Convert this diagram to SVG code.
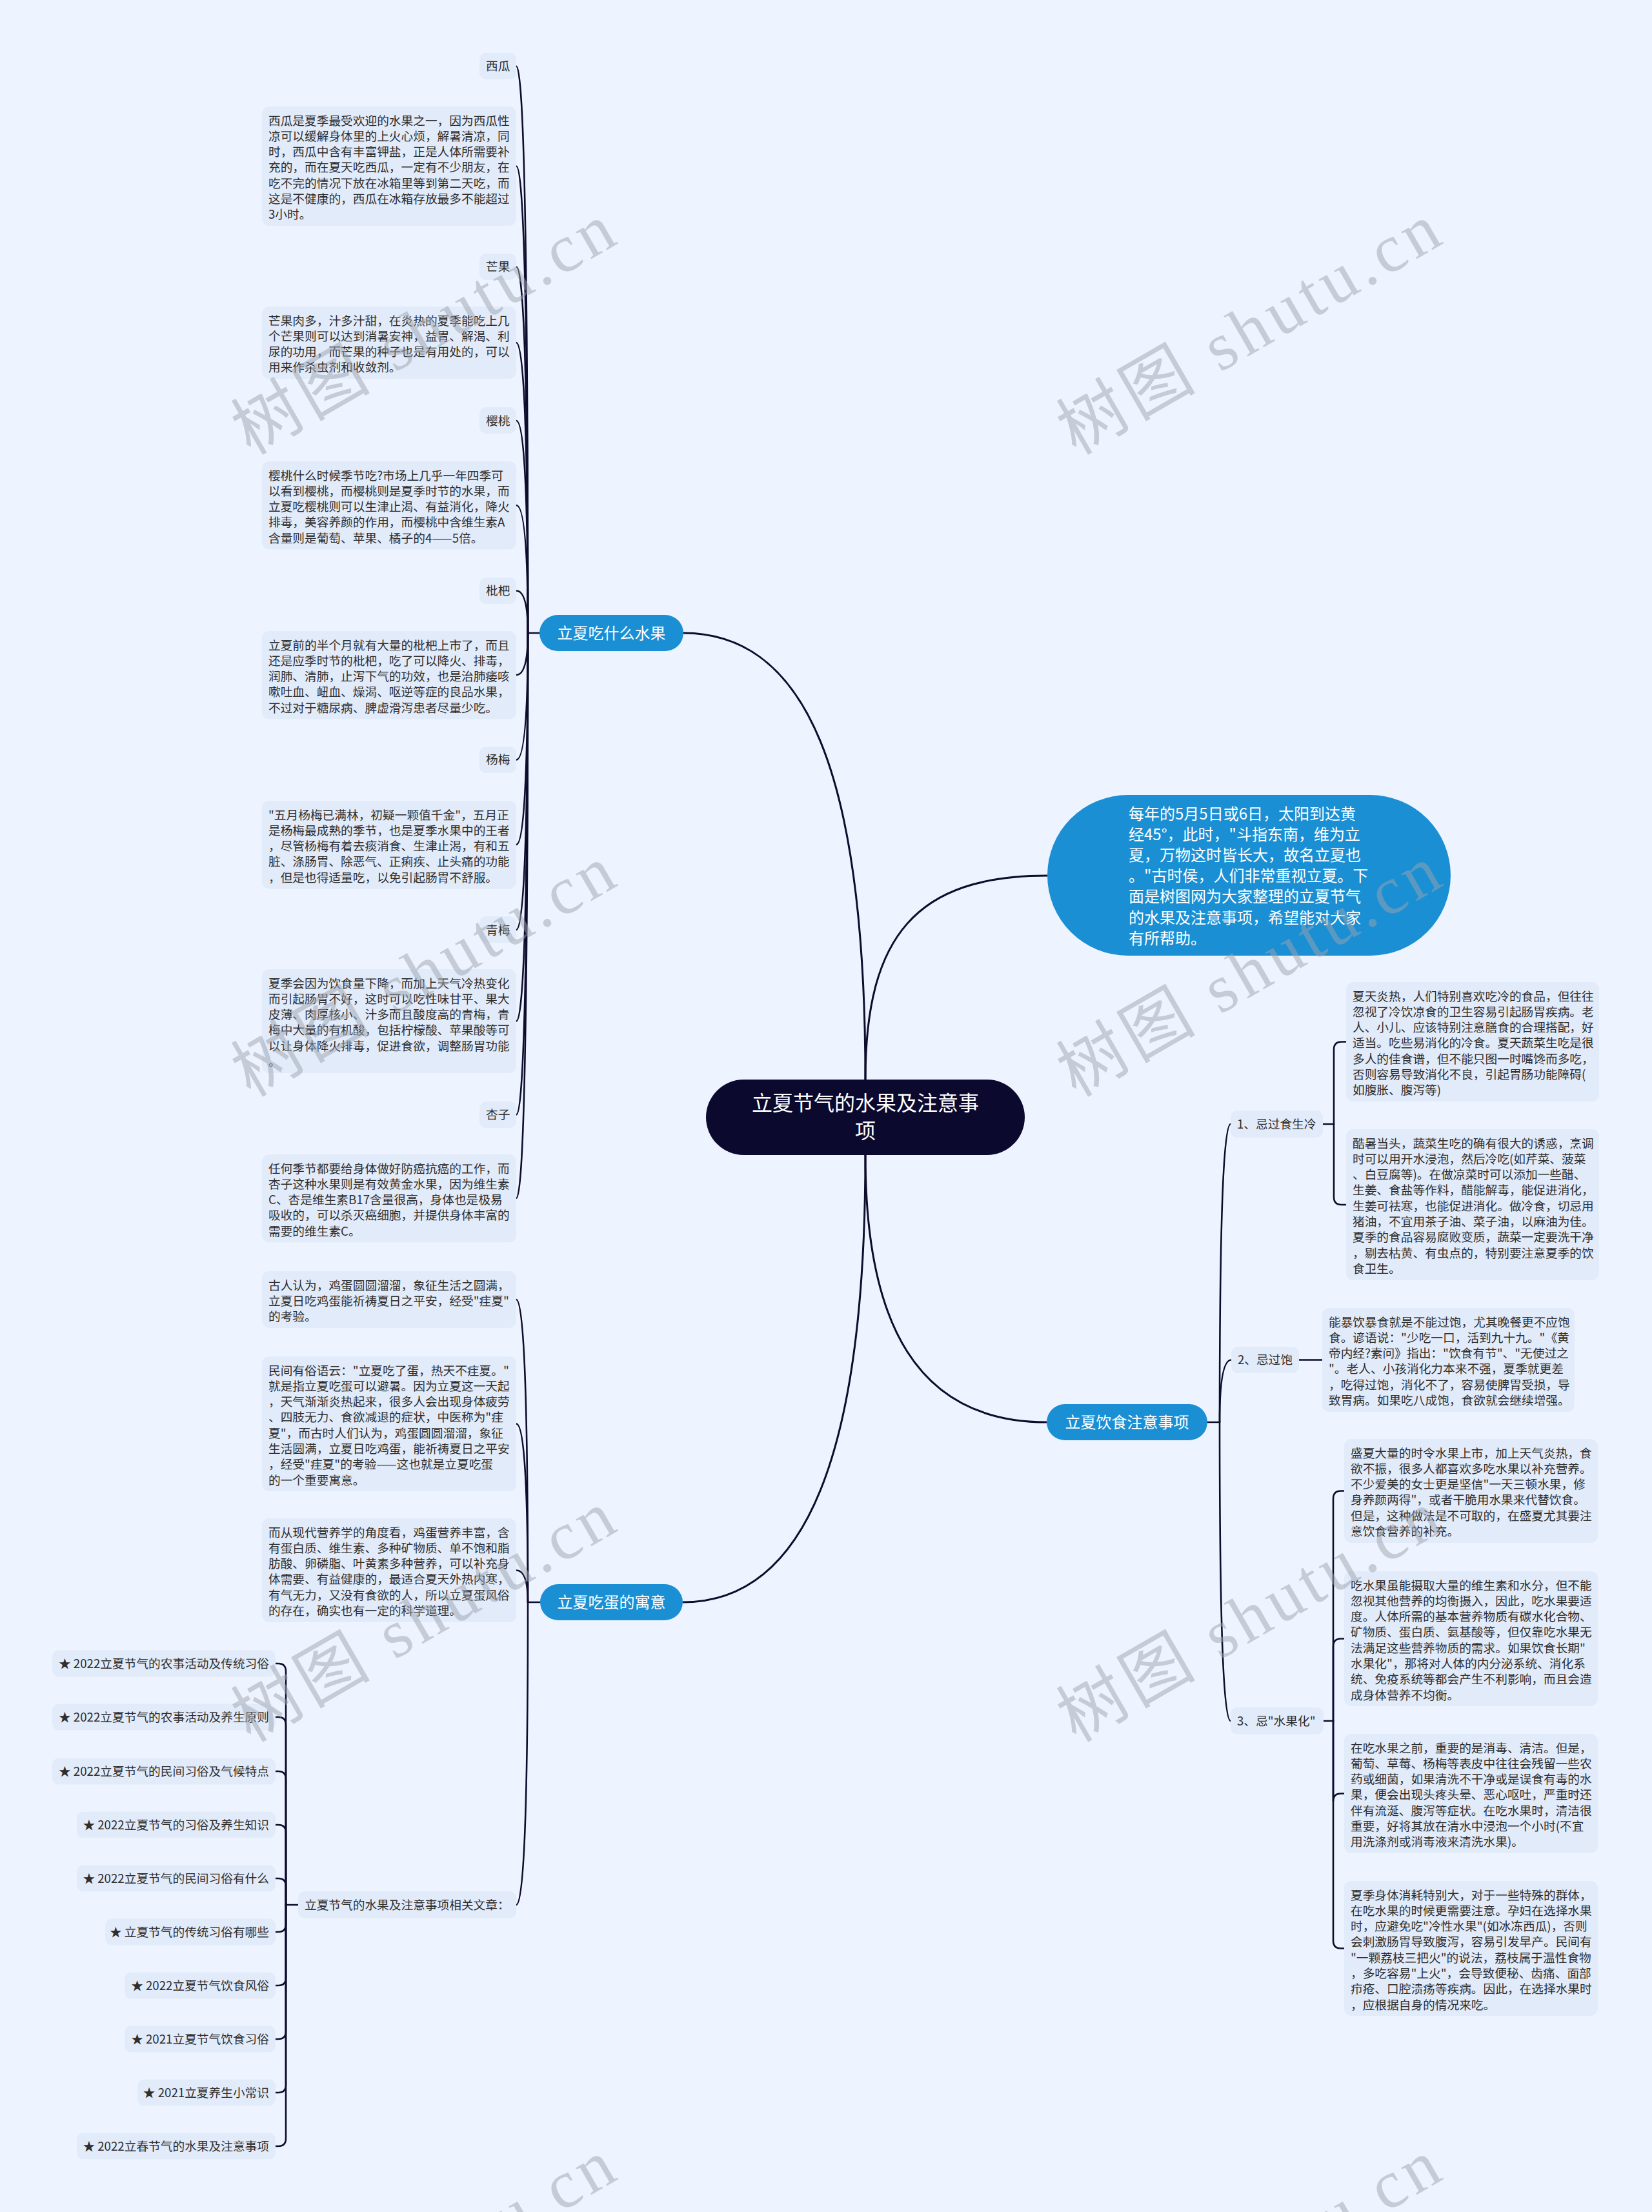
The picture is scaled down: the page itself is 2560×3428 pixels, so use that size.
<svg xmlns="http://www.w3.org/2000/svg" width="2560" height="3428" viewBox="0 0 2560 3428">
<style>
.bg{fill:#eef4ff}
.leaf{fill:#e2ebfa}
.blue{fill:#1b8fd4}
.core{fill:#0b0a2e}
.t{font-family:"Noto Sans CJK SC","Liberation Sans",sans-serif;font-size:18.7px;fill:#2e2e2e}
.tw{font-family:"Noto Sans CJK SC","Liberation Sans",sans-serif;font-size:24px;fill:#ffffff}
.tc{font-family:"Noto Sans CJK SC","Liberation Sans",sans-serif;font-size:32px;fill:#ffffff}
.ln{fill:none;stroke:#0e0c2c;stroke-width:2.6;stroke-linecap:round}
.main{fill:none;stroke:#0e0c2c;stroke-width:3}
.wm{font-family:"Liberation Serif","Noto Sans CJK SC",serif;font-size:105px;fill:#9ea3ad;fill-opacity:0.5}
</style>
<rect class="bg" x="0" y="0" width="2560" height="3428"/>

<g id="connectors">
  <!-- center to branches -->
  <path class="main" d="M1341,1731 L1341,1673 C1341,1200 1250,981 1059,981"/>
  <path class="main" d="M1341,1731 L1341,1673 C1341,1450 1420,1357 1623,1357"/>
  <path class="main" d="M1341,1731 L1341,1790 C1341,2050 1420,2204 1622,2204"/>
  <path class="main" d="M1341,1731 L1341,1790 C1341,2250 1250,2483 1058,2483"/>
  <!-- fruit branch -->
  <path class="ln" d="M836,981 H818"/>
  <path class="ln" d="M818,981 Q818,102.5 800,102.5"/>
  <path class="ln" d="M818,981 Q818,257.5 800,257.5"/>
  <path class="ln" d="M818,981 Q818,413.5 800,413.5"/>
  <path class="ln" d="M818,981 Q818,531 800,531"/>
  <path class="ln" d="M818,981 Q818,652 800,652"/>
  <path class="ln" d="M818,981 Q818,783 800,783"/>
  <path class="ln" d="M818,981 Q818,915.5 800,915.5"/>
  <path class="ln" d="M818,981 Q818,1046 800,1046"/>
  <path class="ln" d="M818,981 Q818,1177.5 800,1177.5"/>
  <path class="ln" d="M818,981 Q818,1309 800,1309"/>
  <path class="ln" d="M818,981 Q818,1441 800,1441"/>
  <path class="ln" d="M818,981 Q818,1582.5 800,1582.5"/>
  <path class="ln" d="M818,981 Q818,1727.5 800,1727.5"/>
  <path class="ln" d="M818,981 Q818,1857 800,1857"/>
  <!-- egg branch -->
  <path class="ln" d="M837,2483 H818"/>
  <path class="ln" d="M818,2483 Q818,2014 800,2014"/>
  <path class="ln" d="M818,2483 Q818,2206.5 800,2206.5"/>
  <path class="ln" d="M818,2483 Q818,2433.5 800,2433.5"/>
  <path class="ln" d="M818,2483 Q818,2952 800,2952"/>
  <!-- related articles -->
  <path class="ln" d="M462,2952 H443"/>
  <path class="ln" d="M443,2952 V2590 Q443,2578 431,2578 H427"/>
  <path class="ln" d="M443,2952 V2673 Q443,2661 431,2661 H427"/>
  <path class="ln" d="M443,2952 V2757 Q443,2745 431,2745 H427"/>
  <path class="ln" d="M443,2952 V2840 Q443,2828 431,2828 H427"/>
  <path class="ln" d="M443,2952 V2923 Q443,2911 431,2911 H427"/>
  <path class="ln" d="M443,2952 V2982 Q443,2994 431,2994 H427"/>
  <path class="ln" d="M443,2952 V3065 Q443,3077 431,3077 H427"/>
  <path class="ln" d="M443,2952 V3148 Q443,3160 431,3160 H427"/>
  <path class="ln" d="M443,2952 V3231 Q443,3243 431,3243 H427"/>
  <path class="ln" d="M443,2952 V3314 Q443,3326 431,3326 H427"/>
  <!-- diet branch -->
  <path class="ln" d="M1871,2204 H1890"/>
  <path class="ln" d="M1890,2204 Q1890,1742 1907,1742"/>
  <path class="ln" d="M1890,2204 Q1890,2107.5 1908,2107.5"/>
  <path class="ln" d="M1890,2204 Q1890,2667 1907,2667"/>
  <!-- 1 -->
  <path class="ln" d="M2050,1742 H2067"/>
  <path class="ln" d="M2067,1742 V1626.5 Q2067,1614.5 2079,1614.5 H2086"/>
  <path class="ln" d="M2067,1742 V1855 Q2067,1867 2079,1867 H2086"/>
  <!-- 2 -->
  <path class="ln" d="M2013,2107.5 H2049"/>
  <!-- 3 -->
  <path class="ln" d="M2051,2667 H2066"/>
  <path class="ln" d="M2066,2667 V2322.5 Q2066,2310.5 2078,2310.5 H2083"/>
  <path class="ln" d="M2066,2667 V2551.5 Q2066,2539.5 2078,2539.5 H2083"/>
  <path class="ln" d="M2066,2667 V2791.5 Q2066,2779.5 2078,2779.5 H2083"/>
  <path class="ln" d="M2066,2667 V3007.5 Q2066,3019.5 2078,3019.5 H2083"/>
</g>

<g id="center">
  <rect class="core" x="1094" y="1673" width="494" height="117" rx="58.5"/>
  <text class="tc" text-anchor="middle"><tspan x="1341" y="1721">立夏节气的水果及注意事</tspan><tspan x="1341" y="1764">项</tspan></text>
</g>

<g id="intro">
  <rect class="blue" x="1623" y="1232" width="625" height="249" rx="124.5"/>
  <text class="tw"><tspan x="1749" y="1269.5">每年的5月5日或6日，太阳到达黄</tspan><tspan x="1749" dy="32.2">经45°，此时，"斗指东南，维为立</tspan><tspan x="1749" dy="32.2">夏，万物这时皆长大，故名立夏也</tspan><tspan x="1749" dy="32.2">。"古时侯，人们非常重视立夏。下</tspan><tspan x="1749" dy="32.2">面是树图网为大家整理的立夏节气</tspan><tspan x="1749" dy="32.2">的水果及注意事项，希望能对大家</tspan><tspan x="1749" dy="32.2">有所帮助。</tspan></text>
</g>

<g id="fruit">
  <rect class="blue" x="836" y="953" width="223" height="56" rx="28"/>
  <text class="tw" x="947.5" y="989.5" text-anchor="middle">立夏吃什么水果</text>
</g>

<g id="egg">
  <rect class="blue" x="837" y="2455" width="221" height="56" rx="28"/>
  <text class="tw" x="947.5" y="2491.5" text-anchor="middle">立夏吃蛋的寓意</text>
</g>

<g id="diet">
  <rect class="blue" x="1622" y="2176" width="249" height="56" rx="28"/>
  <text class="tw" x="1746.5" y="2212.5" text-anchor="middle">立夏饮食注意事项</text>
</g>

<!-- fruit labels -->
<g id="xigua"><rect class="leaf" x="743" y="82" width="57" height="41" rx="10"/><text class="t" x="753" y="109">西瓜</text></g>
<g id="xigua-desc"><rect class="leaf" x="406" y="165" width="394" height="185" rx="11"/><text class="t"><tspan x="416" y="193.5">西瓜是夏季最受欢迎的水果之一，因为西瓜性</tspan><tspan x="416" dy="24.3">凉可以缓解身体里的上火心烦，解暑清凉，同</tspan><tspan x="416" dy="24.3">时，西瓜中含有丰富钾盐，正是人体所需要补</tspan><tspan x="416" dy="24.3">充的，而在夏天吃西瓜，一定有不少朋友，在</tspan><tspan x="416" dy="24.3">吃不完的情况下放在冰箱里等到第二天吃，而</tspan><tspan x="416" dy="24.3">这是不健康的，西瓜在冰箱存放最多不能超过</tspan><tspan x="416" dy="24.3">3小时。</tspan></text></g>

<g id="mango"><rect class="leaf" x="743" y="393" width="57" height="41" rx="10"/><text class="t" x="753" y="420">芒果</text></g>
<g id="mango-desc"><rect class="leaf" x="406" y="475" width="394" height="112" rx="11"/><text class="t"><tspan x="416" y="503.5">芒果肉多，汁多汁甜，在炎热的夏季能吃上几</tspan><tspan x="416" dy="24.3">个芒果则可以达到消暑安神，益胃、解渴、利</tspan><tspan x="416" dy="24.3">尿的功用，而芒果的种子也是有用处的，可以</tspan><tspan x="416" dy="24.3">用来作杀虫剂和收敛剂。</tspan></text></g>

<g id="cherry"><rect class="leaf" x="743" y="631" width="57" height="41" rx="10"/><text class="t" x="753" y="658.5">樱桃</text></g>
<g id="cherry-desc"><rect class="leaf" x="406" y="715" width="394" height="136.5" rx="11"/><text class="t"><tspan x="416" y="743.5">樱桃什么时候季节吃?市场上几乎一年四季可</tspan><tspan x="416" dy="24.3">以看到樱桃，而樱桃则是夏季时节的水果，而</tspan><tspan x="416" dy="24.3">立夏吃樱桃则可以生津止渴、有益消化，降火</tspan><tspan x="416" dy="24.3">排毒，美容养颜的作用，而樱桃中含维生素A</tspan><tspan x="416" dy="24.3">含量则是葡萄、苹果、橘子的4——5倍。</tspan></text></g>

<g id="loquat"><rect class="leaf" x="743" y="895" width="57" height="41" rx="10"/><text class="t" x="753" y="922">枇杷</text></g>
<g id="loquat-desc"><rect class="leaf" x="406" y="978" width="394" height="136.5" rx="11"/><text class="t"><tspan x="416" y="1006.5">立夏前的半个月就有大量的枇杷上市了，而且</tspan><tspan x="416" dy="24.3">还是应季时节的枇杷，吃了可以降火、排毒，</tspan><tspan x="416" dy="24.3">润肺、清肺，止泻下气的功效，也是治肺痿咳</tspan><tspan x="416" dy="24.3">嗽吐血、衄血、燥渴、呕逆等症的良品水果，</tspan><tspan x="416" dy="24.3">不过对于糖尿病、脾虚滑泻患者尽量少吃。</tspan></text></g>

<g id="bayberry"><rect class="leaf" x="743" y="1157" width="57" height="41" rx="10"/><text class="t" x="753" y="1184">杨梅</text></g>
<g id="bayberry-desc"><rect class="leaf" x="406" y="1241" width="394" height="136.5" rx="11"/><text class="t"><tspan x="416" y="1269.5">"五月杨梅已满林，初疑一颗值千金"，五月正</tspan><tspan x="416" dy="24.3">是杨梅最成熟的季节，也是夏季水果中的王者</tspan><tspan x="416" dy="24.3">，尽管杨梅有着去痰消食、生津止渴，有和五</tspan><tspan x="416" dy="24.3">脏、涤肠胃、除恶气、正痢疾、止头痛的功能</tspan><tspan x="416" dy="24.3">，但是也得适量吃，以免引起肠胃不舒服。</tspan></text></g>

<g id="greenplum"><rect class="leaf" x="743" y="1420" width="57" height="41" rx="10"/><text class="t" x="753" y="1447.5">青梅</text></g>
<g id="greenplum-desc"><rect class="leaf" x="406" y="1502" width="394" height="161" rx="11"/><text class="t"><tspan x="416" y="1530.5">夏季会因为饮食量下降，而加上天气冷热变化</tspan><tspan x="416" dy="24.3">而引起肠胃不好，这时可以吃性味甘平、果大</tspan><tspan x="416" dy="24.3">皮薄、肉厚核小、汁多而且酸度高的青梅，青</tspan><tspan x="416" dy="24.3">梅中大量的有机酸，包括柠檬酸、苹果酸等可</tspan><tspan x="416" dy="24.3">以让身体降火排毒，促进食欲，调整肠胃功能</tspan><tspan x="416" dy="24.3">。</tspan></text></g>

<g id="apricot"><rect class="leaf" x="743" y="1707" width="57" height="41" rx="10"/><text class="t" x="753" y="1734">杏子</text></g>
<g id="apricot-desc"><rect class="leaf" x="406" y="1789" width="394" height="136.5" rx="11"/><text class="t"><tspan x="416" y="1817.5">任何季节都要给身体做好防癌抗癌的工作，而</tspan><tspan x="416" dy="24.3">杏子这种水果则是有效黄金水果，因为维生素</tspan><tspan x="416" dy="24.3">C、杏是维生素B17含量很高，身体也是极易</tspan><tspan x="416" dy="24.3">吸收的，可以杀灭癌细胞，并提供身体丰富的</tspan><tspan x="416" dy="24.3">需要的维生素C。</tspan></text></g>

<!-- egg children -->
<g id="egg-1"><rect class="leaf" x="406" y="1970" width="394" height="88" rx="11"/><text class="t"><tspan x="416" y="1998.5">古人认为，鸡蛋圆圆溜溜，象征生活之圆满，</tspan><tspan x="416" dy="24.3">立夏日吃鸡蛋能祈祷夏日之平安，经受"疰夏"</tspan><tspan x="416" dy="24.3">的考验。</tspan></text></g>
<g id="egg-2"><rect class="leaf" x="406" y="2102" width="394" height="209" rx="11"/><text class="t"><tspan x="416" y="2130.5">民间有俗语云："立夏吃了蛋，热天不疰夏。"</tspan><tspan x="416" dy="24.3">就是指立夏吃蛋可以避暑。因为立夏这一天起</tspan><tspan x="416" dy="24.3">，天气渐渐炎热起来，很多人会出现身体疲劳</tspan><tspan x="416" dy="24.3">、四肢无力、食欲减退的症状，中医称为"疰</tspan><tspan x="416" dy="24.3">夏"，而古时人们认为，鸡蛋圆圆溜溜，象征</tspan><tspan x="416" dy="24.3">生活圆满，立夏日吃鸡蛋，能祈祷夏日之平安</tspan><tspan x="416" dy="24.3">，经受"疰夏"的考验——这也就是立夏吃蛋</tspan><tspan x="416" dy="24.3">的一个重要寓意。</tspan></text></g>
<g id="egg-3"><rect class="leaf" x="406" y="2353" width="394" height="161" rx="11"/><text class="t"><tspan x="416" y="2381.5">而从现代营养学的角度看，鸡蛋营养丰富，含</tspan><tspan x="416" dy="24.3">有蛋白质、维生素、多种矿物质、单不饱和脂</tspan><tspan x="416" dy="24.3">肪酸、卵磷脂、叶黄素多种营养，可以补充身</tspan><tspan x="416" dy="24.3">体需要、有益健康的，最适合夏天外热内寒，</tspan><tspan x="416" dy="24.3">有气无力，又没有食欲的人，所以立夏蛋风俗</tspan><tspan x="416" dy="24.3">的存在，确实也有一定的科学道理。</tspan></text></g>

<g id="related"><rect class="leaf" x="462" y="2931" width="338" height="42" rx="10"/><text class="t" x="472" y="2958.5">立夏节气的水果及注意事项相关文章：</text></g>
<g id="rel-1"><rect class="leaf" x="81" y="2557.5" width="346" height="41" rx="10"/><text class="t" x="417" y="2584.5" text-anchor="end">★ 2022立夏节气的农事活动及传统习俗</text></g>
<g id="rel-2"><rect class="leaf" x="81" y="2640.5" width="346" height="41" rx="10"/><text class="t" x="417" y="2667.5" text-anchor="end">★ 2022立夏节气的农事活动及养生原则</text></g>
<g id="rel-3"><rect class="leaf" x="81" y="2724.5" width="346" height="41" rx="10"/><text class="t" x="417" y="2751.5" text-anchor="end">★ 2022立夏节气的民间习俗及气候特点</text></g>
<g id="rel-4"><rect class="leaf" x="119" y="2807.5" width="308" height="41" rx="10"/><text class="t" x="417" y="2834.5" text-anchor="end">★ 2022立夏节气的习俗及养生知识</text></g>
<g id="rel-5"><rect class="leaf" x="119" y="2890.5" width="308" height="41" rx="10"/><text class="t" x="417" y="2917.5" text-anchor="end">★ 2022立夏节气的民间习俗有什么</text></g>
<g id="rel-6"><rect class="leaf" x="163" y="2973.5" width="264" height="41" rx="10"/><text class="t" x="417" y="3000.5" text-anchor="end">★ 立夏节气的传统习俗有哪些</text></g>
<g id="rel-7"><rect class="leaf" x="193" y="3056.5" width="234" height="41" rx="10"/><text class="t" x="417" y="3083.5" text-anchor="end">★ 2022立夏节气饮食风俗</text></g>
<g id="rel-8"><rect class="leaf" x="193" y="3139.5" width="234" height="41" rx="10"/><text class="t" x="417" y="3166.5" text-anchor="end">★ 2021立夏节气饮食习俗</text></g>
<g id="rel-9"><rect class="leaf" x="213" y="3222.5" width="214" height="41" rx="10"/><text class="t" x="417" y="3249.5" text-anchor="end">★ 2021立夏养生小常识</text></g>
<g id="rel-10"><rect class="leaf" x="119" y="3305.5" width="308" height="41" rx="10"/><text class="t" x="417" y="3332.5" text-anchor="end">★ 2022立春节气的水果及注意事项</text></g>

<!-- diet children -->
<g id="d1"><rect class="leaf" x="1907" y="1721" width="143" height="42" rx="10"/><text class="t" x="1917" y="1748.5">1、忌过食生冷</text></g>
<g id="d1-a"><rect class="leaf" x="2086" y="1522" width="392" height="185" rx="11"/><text class="t"><tspan x="2096" y="1550.5">夏天炎热，人们特别喜欢吃冷的食品，但往往</tspan><tspan x="2096" dy="24.3">忽视了冷饮凉食的卫生容易引起肠胃疾病。老</tspan><tspan x="2096" dy="24.3">人、小儿、应该特别注意膳食的合理搭配，好</tspan><tspan x="2096" dy="24.3">适当。吃些易消化的冷食。夏天蔬菜生吃是很</tspan><tspan x="2096" dy="24.3">多人的佳食谱，但不能只图一时嘴馋而多吃，</tspan><tspan x="2096" dy="24.3">否则容易导致消化不良，引起胃肠功能障碍(</tspan><tspan x="2096" dy="24.3">如腹胀、腹泻等)</tspan></text></g>
<g id="d1-b"><rect class="leaf" x="2086" y="1750" width="392" height="234" rx="11"/><text class="t"><tspan x="2096" y="1778.5">酷暑当头，蔬菜生吃的确有很大的诱惑，烹调</tspan><tspan x="2096" dy="24.3">时可以用开水浸泡，然后冷吃(如芹菜、菠菜</tspan><tspan x="2096" dy="24.3">、白豆腐等)。在做凉菜时可以添加一些醋、</tspan><tspan x="2096" dy="24.3">生姜、食盐等作料，醋能解毒，能促进消化，</tspan><tspan x="2096" dy="24.3">生姜可祛寒，也能促进消化。做冷食，切忌用</tspan><tspan x="2096" dy="24.3">猪油，不宜用茶子油、菜子油，以麻油为佳。</tspan><tspan x="2096" dy="24.3">夏季的食品容易腐败变质，蔬菜一定要洗干净</tspan><tspan x="2096" dy="24.3">，剔去枯黄、有虫点的，特别要注意夏季的饮</tspan><tspan x="2096" dy="24.3">食卫生。</tspan></text></g>

<g id="d2"><rect class="leaf" x="1908" y="2087" width="105" height="41" rx="10"/><text class="t" x="1918" y="2114">2、忌过饱</text></g>
<g id="d2-a"><rect class="leaf" x="2049" y="2027" width="391" height="161" rx="11"/><text class="t"><tspan x="2059" y="2055.5">能暴饮暴食就是不能过饱，尤其晚餐更不应饱</tspan><tspan x="2059" dy="24.3">食。谚语说："少吃一口，活到九十九。"《黄</tspan><tspan x="2059" dy="24.3">帝内经?素问》指出："饮食有节"、"无使过之</tspan><tspan x="2059" dy="24.3">"。老人、小孩消化力本来不强，夏季就更差</tspan><tspan x="2059" dy="24.3">，吃得过饱，消化不了，容易使脾胃受损，导</tspan><tspan x="2059" dy="24.3">致胃病。如果吃八成饱，食欲就会继续增强。</tspan></text></g>

<g id="d3"><rect class="leaf" x="1907" y="2646" width="144" height="42" rx="10"/><text class="t" x="1917" y="2673.5">3、忌"水果化"</text></g>
<g id="d3-a"><rect class="leaf" x="2083" y="2230" width="393" height="161" rx="11"/><text class="t"><tspan x="2093" y="2258.5">盛夏大量的时令水果上市，加上天气炎热，食</tspan><tspan x="2093" dy="24.3">欲不振，很多人都喜欢多吃水果以补充营养。</tspan><tspan x="2093" dy="24.3">不少爱美的女士更是坚信"一天三顿水果，修</tspan><tspan x="2093" dy="24.3">身养颜两得"，或者干脆用水果来代替饮食。</tspan><tspan x="2093" dy="24.3">但是，这种做法是不可取的，在盛夏尤其要注</tspan><tspan x="2093" dy="24.3">意饮食营养的补充。</tspan></text></g>
<g id="d3-b"><rect class="leaf" x="2083" y="2435" width="393" height="209" rx="11"/><text class="t"><tspan x="2093" y="2463.5">吃水果虽能摄取大量的维生素和水分，但不能</tspan><tspan x="2093" dy="24.3">忽视其他营养的均衡摄入，因此，吃水果要适</tspan><tspan x="2093" dy="24.3">度。人体所需的基本营养物质有碳水化合物、</tspan><tspan x="2093" dy="24.3">矿物质、蛋白质、氨基酸等，但仅靠吃水果无</tspan><tspan x="2093" dy="24.3">法满足这些营养物质的需求。如果饮食长期"</tspan><tspan x="2093" dy="24.3">水果化"，那将对人体的内分泌系统、消化系</tspan><tspan x="2093" dy="24.3">统、免疫系统等都会产生不利影响，而且会造</tspan><tspan x="2093" dy="24.3">成身体营养不均衡。</tspan></text></g>
<g id="d3-c"><rect class="leaf" x="2083" y="2687" width="393" height="185" rx="11"/><text class="t"><tspan x="2093" y="2715.5">在吃水果之前，重要的是消毒、清洁。但是，</tspan><tspan x="2093" dy="24.3">葡萄、草莓、杨梅等表皮中往往会残留一些农</tspan><tspan x="2093" dy="24.3">药或细菌，如果清洗不干净或是误食有毒的水</tspan><tspan x="2093" dy="24.3">果，便会出现头疼头晕、恶心呕吐，严重时还</tspan><tspan x="2093" dy="24.3">伴有流涎、腹泻等症状。在吃水果时，清洁很</tspan><tspan x="2093" dy="24.3">重要，好将其放在清水中浸泡一个小时(不宜</tspan><tspan x="2093" dy="24.3">用洗涤剂或消毒液来清洗水果)。</tspan></text></g>
<g id="d3-d"><rect class="leaf" x="2083" y="2915" width="393" height="209" rx="11"/><text class="t"><tspan x="2093" y="2943.5">夏季身体消耗特别大，对于一些特殊的群体，</tspan><tspan x="2093" dy="24.3">在吃水果的时候更需要注意。孕妇在选择水果</tspan><tspan x="2093" dy="24.3">时，应避免吃"冷性水果"(如冰冻西瓜)，否则</tspan><tspan x="2093" dy="24.3">会刺激肠胃导致腹泻，容易引发早产。民间有</tspan><tspan x="2093" dy="24.3">"一颗荔枝三把火"的说法，荔枝属于温性食物</tspan><tspan x="2093" dy="24.3">，多吃容易"上火"，会导致便秘、齿痛、面部</tspan><tspan x="2093" dy="24.3">疖疮、口腔溃疡等疾病。因此，在选择水果时</tspan><tspan x="2093" dy="24.3">，应根据自身的情况来吃。</tspan></text></g>

<g id="watermarks">
  <text class="wm" transform="translate(656,510) rotate(-30)" x="0" y="36" text-anchor="middle" textLength="660" lengthAdjust="spacing">树图 shutu.cn</text>
  <text class="wm" transform="translate(1935,510) rotate(-30)" x="0" y="36" text-anchor="middle" textLength="660" lengthAdjust="spacing">树图 shutu.cn</text>
  <text class="wm" transform="translate(656,1505) rotate(-30)" x="0" y="36" text-anchor="middle" textLength="660" lengthAdjust="spacing">树图 shutu.cn</text>
  <text class="wm" transform="translate(1935,1505) rotate(-30)" x="0" y="36" text-anchor="middle" textLength="660" lengthAdjust="spacing">树图 shutu.cn</text>
  <text class="wm" transform="translate(656,2505) rotate(-30)" x="0" y="36" text-anchor="middle" textLength="660" lengthAdjust="spacing">树图 shutu.cn</text>
  <text class="wm" transform="translate(1935,2505) rotate(-30)" x="0" y="36" text-anchor="middle" textLength="660" lengthAdjust="spacing">树图 shutu.cn</text>
  <text class="wm" transform="translate(656,3510) rotate(-30)" x="0" y="36" text-anchor="middle" textLength="660" lengthAdjust="spacing">树图 shutu.cn</text>
  <text class="wm" transform="translate(1935,3510) rotate(-30)" x="0" y="36" text-anchor="middle" textLength="660" lengthAdjust="spacing">树图 shutu.cn</text>
</g>
</svg>
